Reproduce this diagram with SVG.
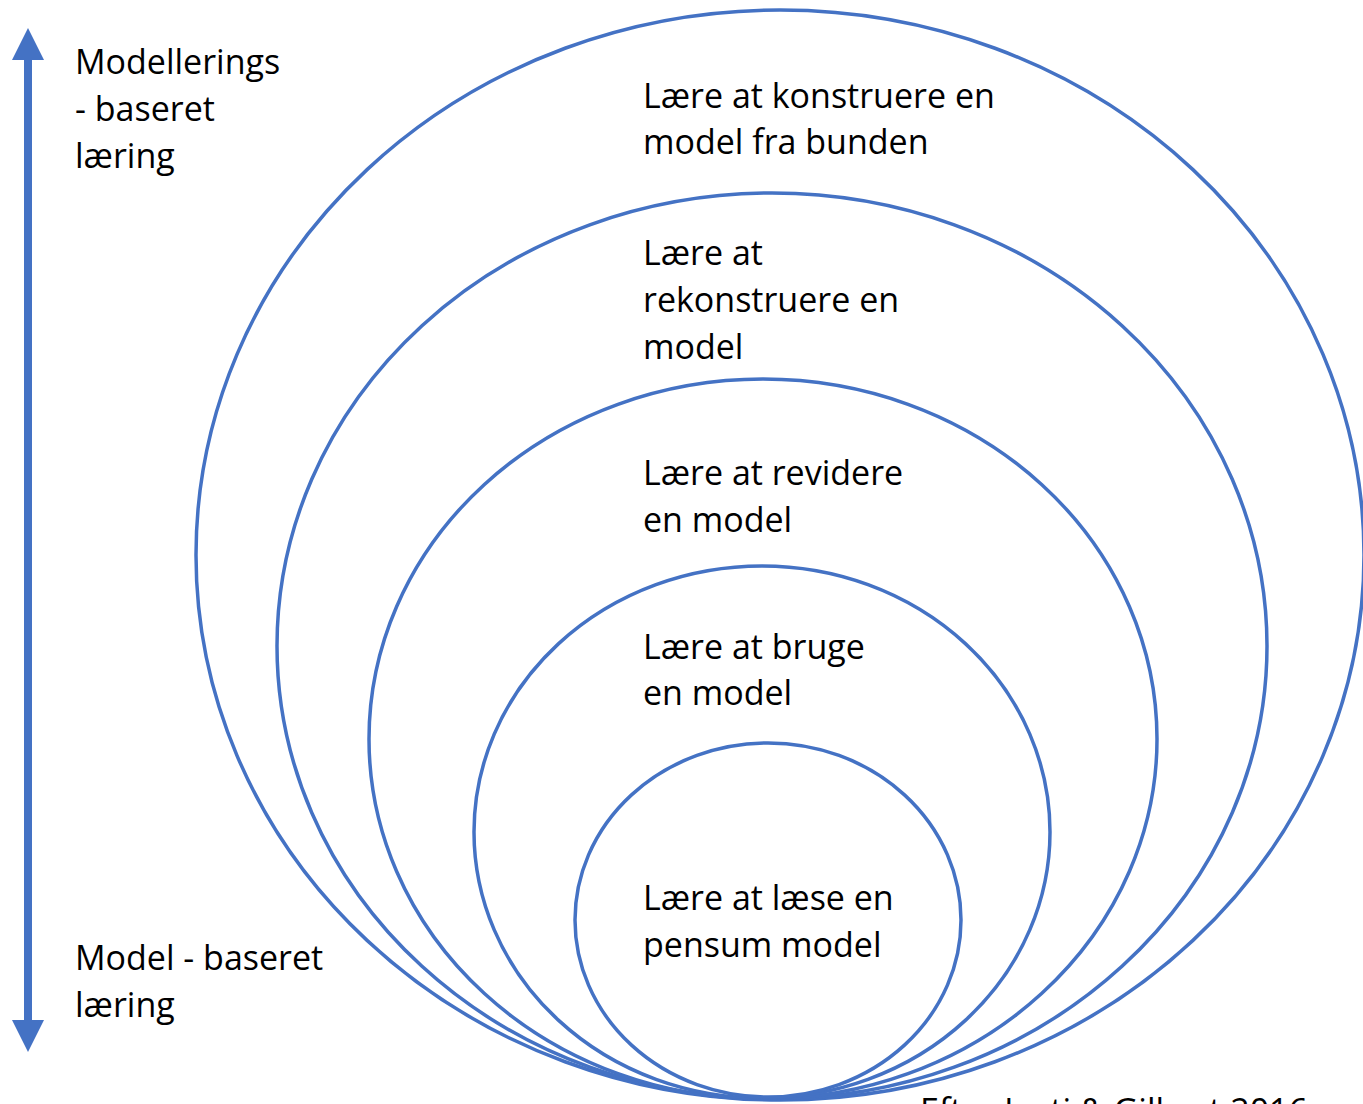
<svg xmlns="http://www.w3.org/2000/svg" width="1363" height="1104" viewBox="0 0 1363 1104">
<style>
.ring{fill:none;stroke:#4472C4;stroke-width:3.5}
.t{font-family:"Open Sans","Noto Sans",sans-serif;font-size:34px;fill:#000}
</style>
<rect width="1363" height="1104" fill="#fff"/>
<g id="axis">
<rect x="24" y="56" width="8" height="968" fill="#4472C4"/>
<polygon points="28,28 12,60 44,60" fill="#4472C4"/>
<polygon points="28,1052 12,1020 44,1020" fill="#4472C4"/>
<text class="t" x="75" y="74">Modellerings</text>
<text class="t" x="75" y="121">- baseret</text>
<text class="t" x="75" y="168">læring</text>
<text class="t" x="75" y="970">Model - baseret</text>
<text class="t" x="75" y="1017">læring</text>
</g>
<g id="level5">
<ellipse class="ring" cx="780" cy="555" rx="584" ry="545"/>
<text class="t" x="643" y="108">Lære at konstruere en</text>
<text class="t" x="643" y="154">model fra bunden</text>
</g>
<g id="level4">
<ellipse class="ring" cx="772" cy="646" rx="495" ry="453"/>
<text class="t" x="643" y="265">Lære at</text>
<text class="t" x="643" y="312">rekonstruere en</text>
<text class="t" x="643" y="359">model</text>
</g>
<g id="level3">
<ellipse class="ring" cx="763" cy="739" rx="394" ry="360"/>
<text class="t" x="643" y="485">Lære at revidere</text>
<text class="t" x="643" y="532">en model</text>
</g>
<g id="level2">
<ellipse class="ring" cx="762" cy="832" rx="288" ry="266"/>
<text class="t" x="643" y="659">Lære at bruge</text>
<text class="t" x="643" y="705">en model</text>
</g>
<g id="level1">
<ellipse class="ring" cx="768" cy="920" rx="193" ry="177"/>
<text class="t" x="643" y="910">Lære at læse en</text>
<text class="t" x="643" y="957">pensum model</text>
</g>
<text class="t" x="920" y="1123">Efter Justi &amp; Gilbert 2016 .</text>
</svg>
